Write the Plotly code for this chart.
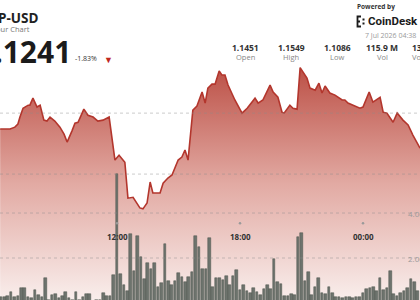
import plotly.graph_objects as go
import pandas as pd

W, H = 420, 300
FONT = "Open Sans"

# ---------------- data ----------------
price_times = [
    "2026-07-06 06:18", "2026-07-06 06:32", "2026-07-06 06:47", "2026-07-06 07:01", "2026-07-06 07:10",
    "2026-07-06 07:16", "2026-07-06 07:25", "2026-07-06 07:40", "2026-07-06 07:45", "2026-07-06 07:54",
    "2026-07-06 08:06", "2026-07-06 08:15", "2026-07-06 08:26", "2026-07-06 08:35", "2026-07-06 08:44",
    "2026-07-06 08:58", "2026-07-06 09:13", "2026-07-06 09:25", "2026-07-06 09:34", "2026-07-06 09:48",
    "2026-07-06 09:57", "2026-07-06 10:06", "2026-07-06 10:23", "2026-07-06 10:35", "2026-07-06 10:50",
    "2026-07-06 11:04", "2026-07-06 11:19", "2026-07-06 11:37", "2026-07-06 11:54", "2026-07-06 12:06",
    "2026-07-06 12:23", "2026-07-06 12:32", "2026-07-06 12:47", "2026-07-06 13:07", "2026-07-06 13:16",
    "2026-07-06 13:28", "2026-07-06 13:37", "2026-07-06 13:45", "2026-07-06 14:06", "2026-07-06 14:15",
    "2026-07-06 14:29", "2026-07-06 14:41", "2026-07-06 14:50", "2026-07-06 14:59", "2026-07-06 15:10",
    "2026-07-06 15:19", "2026-07-06 15:28", "2026-07-06 15:42", "2026-07-06 15:54", "2026-07-06 16:09",
    "2026-07-06 16:18", "2026-07-06 16:26", "2026-07-06 16:38", "2026-07-06 16:47", "2026-07-06 16:59",
    "2026-07-06 17:07", "2026-07-06 17:16", "2026-07-06 17:25", "2026-07-06 17:45", "2026-07-06 18:06",
    "2026-07-06 18:21", "2026-07-06 18:44", "2026-07-06 18:53", "2026-07-06 19:07", "2026-07-06 19:28",
    "2026-07-06 19:37", "2026-07-06 19:51", "2026-07-06 20:03", "2026-07-06 20:09", "2026-07-06 20:26",
    "2026-07-06 20:35", "2026-07-06 20:47", "2026-07-06 20:56", "2026-07-06 21:04", "2026-07-06 21:16",
    "2026-07-06 21:25", "2026-07-06 21:40", "2026-07-06 21:51", "2026-07-06 22:00", "2026-07-06 22:09",
    "2026-07-06 22:23", "2026-07-06 22:38", "2026-07-06 22:47", "2026-07-06 22:59", "2026-07-06 23:07",
    "2026-07-06 23:16", "2026-07-06 23:31", "2026-07-06 23:51", "2026-07-07 00:00", "2026-07-07 00:18",
    "2026-07-07 00:29", "2026-07-07 00:50", "2026-07-07 00:59", "2026-07-07 01:10", "2026-07-07 01:28",
    "2026-07-07 01:40", "2026-07-07 01:57", "2026-07-07 02:12", "2026-07-07 02:26", "2026-07-07 02:47",
]
price_values = [
    1.1348, 1.1348, 1.1348, 1.1354, 1.1364,
    1.1387, 1.1416, 1.1426, 1.1426, 1.1449,
    1.1420, 1.1426, 1.1377, 1.1374, 1.1387,
    1.1374, 1.1354, 1.1331, 1.1305, 1.1341,
    1.1367, 1.1370, 1.1413, 1.1393, 1.1387,
    1.1374, 1.1377, 1.1387, 1.1246, 1.1262,
    1.1239, 1.1121, 1.1124, 1.1089, 1.1086,
    1.1105, 1.1174, 1.1138, 1.1138, 1.1170,
    1.1187, 1.1197, 1.1223, 1.1246, 1.1256,
    1.1279, 1.1246, 1.1410, 1.1423, 1.1469,
    1.1433, 1.1482, 1.1495, 1.1495, 1.1538,
    1.1525, 1.1525, 1.1492, 1.1443, 1.1400,
    1.1416, 1.1449, 1.1433, 1.1443, 1.1492,
    1.1469, 1.1452, 1.1403, 1.1400, 1.1426,
    1.1416, 1.1413, 1.1549, 1.1534, 1.1515,
    1.1482, 1.1475, 1.1498, 1.1466, 1.1489,
    1.1466, 1.1459, 1.1452, 1.1443, 1.1443,
    1.1433, 1.1426, 1.1416, 1.1420, 1.1469,
    1.1436, 1.1452, 1.1403, 1.1400, 1.1370,
    1.1400, 1.1377, 1.1361, 1.1328, 1.1285,
]

volume_start = "2026-07-06 06:10"   # 10-minute volume bars
volume_m = [
    0.30, 0.28, 0.28, 0.30, 0.50, 0.28, 0.30, 0.65, 0.65, 0.25,
    0.20, 0.60, 0.35, 0.25, 1.10, 0.15, 0.35, 0.40, 0.20, 0.30,
    0.50, 0.20, 0.15, 0.50, 0.15, 0.25, 0.40, 0.40, 0.10, 0.15,
    0.15, 0.45, 0.30, 0.30, 1.24, 5.73,
    1.27, 0.80, 0.55, 3.07, 1.42, 2.98, 2.04, 1.07, 1.78, 1.50,
    1.78, 0.70, 0.90, 2.62, 1.00, 0.80, 0.98, 1.33, 1.16, 0.93,
    1.16, 1.38, 2.98, 2.49, 1.51, 1.51, 2.89,
    0.70, 1.10, 1.10, 1.02, 1.20, 0.80, 1.20, 1.47, 0.58, 0.80,
    0.53, 0.44, 0.67, 0.49, 0.36, 0.62, 0.80, 0.62, 1.96, 0.93,
    0.84, 0.31, 0.31, 0.40, 0.36, 2.93, 3.11, 0.98, 1.38, 0.36,
    0.71, 1.10, 0.44, 0.40, 0.71, 0.44, 0.27, 0.27, 0.22, 0.27,
    0.27, 0.22, 0.27, 0.27, 0.44, 0.62, 0.67, 0.71, 0.53, 1.10,
    0.58, 0.67, 1.42, 0.40, 0.31, 0.44, 0.53, 0.67, 1.07, 0.93,
    0.53,
]
volume_times = pd.date_range(volume_start, periods=len(volume_m), freq="10min")

tick_times = ["2026-07-06 06:00", "2026-07-06 12:00", "2026-07-06 18:00", "2026-07-07 00:00"]
tick_labels = ["06:00", "12:00", "18:00", "00:00"]

price_grid = [1.12, 1.14]
volume_grid = [2.0, 4.0]
volume_grid_labels = ["2.00M", "4.00M"]

stat_values = ["1.1451", "1.1549", "1.1086", "115.9 M", "130.4 M"]
stat_labels = ["Open", "High", "Low", "Vol", "Vol (USD)"]

symbol = "XRP-USD"
subtitle = "24 Hour Chart"
last_price = "1.1241"
change_pct = "-1.83%"
stamp = "7 Jul 2026 04:38"

# ---------------- axes ranges ----------------
X_RANGE = ["2026-07-06 06:17:34", "2026-07-07 02:46:50"]
Y_RANGE = [1.0787, 1.1771]
Y2_RANGE = [0.133, 13.47]

fig = go.Figure()

fig.add_trace(go.Scatter(
    x=price_times, y=price_values, mode="lines",
    line=dict(color="#b3362d", width=1.6),
    fill="tozeroy",
    fillgradient=dict(type="vertical",
                      colorscale=[[0, "rgb(249,238,236)"], [0.5, "rgb(226,170,163)"], [1, "rgb(188,80,70)"]],
                      start=Y_RANGE[0], stop=max(price_values)),
    hoverinfo="skip", showlegend=False, yaxis="y",
))

fig.add_trace(go.Bar(
    x=volume_times, y=volume_m, yaxis="y2",
    width=450000,
    marker=dict(color="#6d736d", line=dict(color="#4a504a", width=0.5)),
    hoverinfo="skip", showlegend=False,
))

# tick dots above time labels
fig.add_trace(go.Scatter(
    x=tick_times, y=[3.55] * len(tick_times), yaxis="y2", mode="markers",
    marker=dict(size=2.5, color="#9a9a9a"), hoverinfo="skip", showlegend=False,
))

# grid lines (dotted, above fill)
for g in price_grid:
    fig.add_shape(type="line", xref="paper", yref="y", x0=0, x1=1, y0=g, y1=g,
                  line=dict(color="rgba(140,140,140,0.45)", width=1, dash="dot"), layer="above")
for g in volume_grid:
    fig.add_shape(type="line", xref="paper", yref="y2", x0=0, x1=1, y0=g, y1=g,
                  line=dict(color="rgba(140,140,140,0.45)", width=1, dash="dot"), layer="above")

def ann(text, x, y, xanchor="left", size=8, color="#333", bold=False, family=FONT):
    fig.add_annotation(
        text=f"<b>{text}</b>" if bold else text,
        x=x / W, y=1 - y / H, xref="paper", yref="paper",
        xanchor=xanchor, yanchor="middle", showarrow=False,
        font=dict(family=family, size=size, color=color), borderpad=0,
    )

# time labels
for t, lab in zip(tick_times, tick_labels):
    fig.add_annotation(text=f"<b>{lab}</b>", x=t, xref="x", y=1 - 236 / H, yref="paper",
                       showarrow=False, xanchor="center", yanchor="middle", borderpad=0,
                       font=dict(family=FONT, size=8, color="#333"))

# volume axis labels
for g, lab in zip(volume_grid, volume_grid_labels):
    fig.add_annotation(text=lab, x=407 / W, xref="paper", y=g, yref="y2",
                       showarrow=False, xanchor="left", yanchor="middle", borderpad=0,
                       font=dict(family=FONT, size=8, color="#9a9a9a"))

# header
ann(symbol, 39, 18, "right", 13.5, "#222", True)
ann(subtitle, 31, 29, "right", 7.5, "#777")
ann(last_price, 72, 51, "right", 30, "#1b1b1b", True)
ann(change_pct, 74, 58, "left", 7, "#333")
ann("▼", 103, 59, "left", 9, "#c0281f")

ann("Powered by", 356, 7, "left", 6.5, "#333", True)
ann("CoinDesk Indices", 367, 21, "left", 11.5, "#1b1b1b", True, "Roboto")
ann(stamp, 364, 35, "left", 7, "#9a9a9a")

stat_centers = [245, 291, 337, 382, 428]
for cx, v, l in zip(stat_centers, stat_values, stat_labels):
    fig.add_annotation(text=f"<b>{v}</b>", x=cx / W, y=1 - 47 / H, xref="paper", yref="paper",
                       xanchor="center", yanchor="middle", showarrow=False, borderpad=0,
                       font=dict(family=FONT, size=8.5, color="#333"))
    fig.add_annotation(text=l, x=cx / W, y=1 - 57.5 / H, xref="paper", yref="paper",
                       xanchor="center", yanchor="middle", showarrow=False, borderpad=0,
                       font=dict(family=FONT, size=7.5, color="#888"))

# CoinDesk logo mark
def pxp(x, y):
    return f"{x / W},{1 - y / H}"
fig.add_shape(type="path", xref="paper", yref="paper",
              path=f"M {pxp(361,16.5)} L {pxp(357.5,16.5)} L {pxp(357.5,26.5)} L {pxp(361,26.5)} M {pxp(357.5,21.5)} L {pxp(360,21.5)}",
              line=dict(color="#1b1b1b", width=1.8))
for yy in (19.5, 23.5):
    fig.add_shape(type="rect", xref="paper", yref="paper",
                  x0=362.5 / W, x1=364.5 / W, y0=1 - (yy - 1) / H, y1=1 - (yy + 1) / H,
                  fillcolor="#1b1b1b", line=dict(width=0))

fig.update_layout(
    width=W, height=H, margin=dict(l=0, r=0, t=0, b=0),
    paper_bgcolor="white", plot_bgcolor="white",
    showlegend=False, hovermode=False, bargap=0,
    xaxis=dict(type="date", range=X_RANGE, visible=False, showgrid=False),
    yaxis=dict(range=Y_RANGE, visible=False, showgrid=False, zeroline=False),
    yaxis2=dict(range=Y2_RANGE, overlaying="y", visible=False, showgrid=False, zeroline=False),
)

fig.write_html("out.html")
